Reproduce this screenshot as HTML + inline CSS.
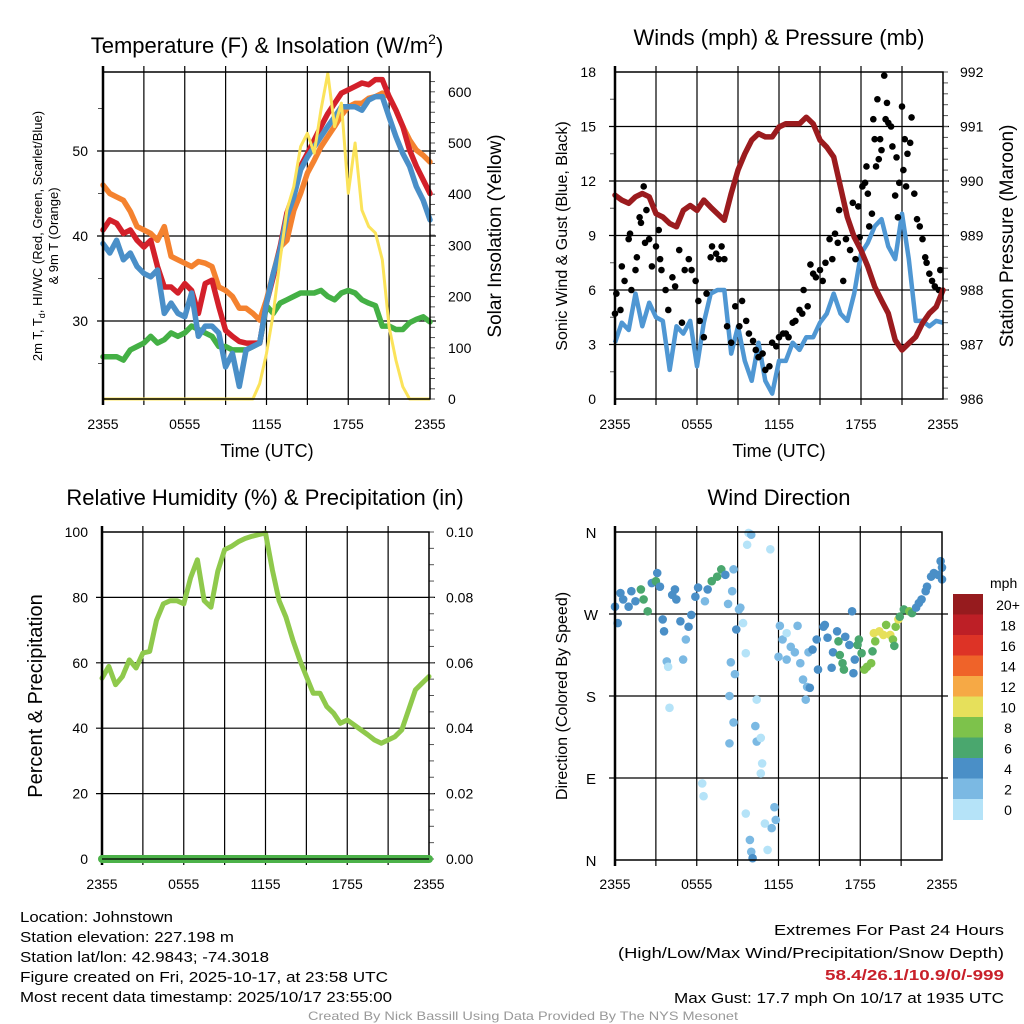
<!DOCTYPE html>
<html><head><meta charset="utf-8">
<style>
html,body{margin:0;padding:0;background:#fff;}
svg{display:block;font-family:"Liberation Sans",Arial,sans-serif;}
</style></head>
<body>
<svg id="fig" width="1024" height="1024" viewBox="0 0 1024 1024" xmlns="http://www.w3.org/2000/svg">
<rect x="0" y="0" width="1024" height="1024" fill="#fff"/>
<g id="titles" font-size="22" text-anchor="middle" fill="#000">
  <text x="267" y="53">Temperature (F) &amp; Insolation (W/m<tspan dy="-9" font-size="14">2</tspan><tspan dy="9">)</tspan></text>
  <text x="779" y="45">Winds (mph) &amp; Pressure (mb)</text>
  <text x="265" y="505">Relative Humidity (%) &amp; Precipitation (in)</text>
  <text x="779" y="505">Wind Direction</text>
</g>
<g id="p1"></g><g id="p2"></g><g id="p3"></g><g id="p4"></g>
<g id="info" font-size="15" fill="#000">
  <text x="20" y="922" textLength="153" lengthAdjust="spacingAndGlyphs">Location: Johnstown</text>
  <text x="20" y="942" textLength="214" lengthAdjust="spacingAndGlyphs">Station elevation: 227.198 m</text>
  <text x="20" y="962" textLength="249" lengthAdjust="spacingAndGlyphs">Station lat/lon: 42.9843; -74.3018</text>
  <text x="20" y="982" textLength="368" lengthAdjust="spacingAndGlyphs">Figure created on Fri, 2025-10-17, at 23:58 UTC</text>
  <text x="20" y="1002" textLength="372" lengthAdjust="spacingAndGlyphs">Most recent data timestamp: 2025/10/17 23:55:00</text>
  <text x="1004" y="935" text-anchor="end" textLength="230" lengthAdjust="spacingAndGlyphs">Extremes For Past 24 Hours</text>
  <text x="1004" y="958" text-anchor="end" textLength="386" lengthAdjust="spacingAndGlyphs">(High/Low/Max Wind/Precipitation/Snow Depth)</text>
  <text x="1004" y="980" text-anchor="end" fill="#c8202a" font-weight="bold" textLength="179" lengthAdjust="spacingAndGlyphs">58.4/26.1/10.9/0/-999</text>
  <text x="1004" y="1003" text-anchor="end" textLength="330" lengthAdjust="spacingAndGlyphs">Max Gust: 17.7 mph On 10/17 at 1935 UTC</text>
  <text x="523" y="1020" text-anchor="middle" font-size="12" fill="#999" textLength="430" lengthAdjust="spacingAndGlyphs">Created By Nick Bassill Using Data Provided By The NYS Mesonet</text>
</g>
</svg>
<script>
// ---------- data ----------
const timeLabels = ["2355","0555","1155","1755","2355"];
const hours = [0,0.5,1,1.5,2,2.5,3,3.5,4,4.5,5,5.5,6,6.5,7,7.5,8,8.5,9,9.5,10,10.5,11,11.5,12,12.5,13,13.5,14,14.5,15,15.5,16,16.5,17,17.5,18,18.5,19,19.5,20,20.5,21,21.5,22,22.5,23,23.5,24];
const temp9m = [46,45,44.6,44.2,42.9,41.1,40.7,40.3,39.5,41.1,37.6,37.2,36.8,36.4,37,36.8,36.4,34,33.6,32.9,31.5,31.5,30.9,30.1,32.5,35.6,38.7,39.5,43,45,47.4,48.9,50.5,51.7,52.9,54.2,55.2,55.6,55.6,56.2,56.4,56.8,56.4,54.8,52.9,51.3,50.1,49.5,48.7];
const temp2m = [40.7,41.9,41.5,40.3,40.7,39.5,38.7,39.5,36.4,34,34,33.3,34.4,33.6,30.9,34.4,34.8,31.7,28.9,28.2,27.6,27.4,27.4,27.4,32.1,35.2,38.7,42.7,45,48.2,49.7,51.3,52.9,54.4,55.6,56.8,57.2,57.6,58,57.8,58.4,58.4,56.4,54.8,52.9,50.1,48.2,46.6,45];
const heatWc = [39.1,38,39.5,37.2,38,36.4,35.6,35.2,36,30.9,32.1,30.9,30.5,33.3,28.2,29.4,29.4,28.6,24.6,26.2,22.3,26.6,27,27.4,32.1,35.6,38.4,42.3,44.6,47.8,49.3,50.5,51.7,52.9,54,55.2,55.2,55.2,54.8,56,56.4,56.4,54,51.7,49.7,48.2,45.8,44.2,41.9];
const dewpt = [25.8,25.8,25.8,25.4,26.6,27,27.4,28.2,27.4,27.8,28.6,28.2,28.6,29.4,29,28.6,28.2,27,27,26.6,26.6,26.6,27,27.4,31.8,30.9,32.1,32.5,32.9,33.3,33.3,33.3,33.6,32.9,32.5,33.3,33.6,33.3,32.5,32.1,31.8,29.4,29.4,29,29,29.8,30.2,30.5,29.9];
const solar = [0,0,0,0,0,0,0,0,0,0,0,0,0,0,0,0,0,0,0,0,0,0,0,30,89,167,272,369,415,493,519,480,565,636,532,578,402,500,369,337,324,272,141,76,24,0,0,0,0];
const windSpd = [3.1,4.2,3.8,5.8,4,5.3,4.5,4.3,1.6,4,3.6,4.3,1.8,4.2,5.8,6,6,2.5,4,2.1,1,3.1,1,0.3,2.1,2.1,3.1,2.7,3.4,3.4,4.2,4.7,5.8,4.7,4.3,5.8,8,8.6,9.5,9.9,8.4,7.7,10.2,7.7,4.3,4.3,4,4.3,4.2];
const pressure = [989.74,989.65,989.59,989.71,989.77,989.71,989.4,989.34,989.22,989.16,989.46,989.55,989.46,989.65,989.52,989.4,989.28,989.77,990.2,990.5,990.75,990.87,990.81,990.81,990.99,991.05,991.05,991.05,991.17,991.05,990.75,990.62,990.44,989.89,989.34,988.97,988.73,988.43,988.06,987.81,987.57,987.08,986.9,987.02,987.14,987.39,987.57,987.69,988];
const gustHours = [0,0.1,0.4,0.5,0.7,1,1.1,1.2,1.5,1.6,1.8,1.9,2.1,2.2,2.3,2.5,2.7,3,3.2,3.3,3.4,3.7,3.9,4.2,4.4,4.7,4.9,5.1,5.4,5.6,5.9,6.1,6.2,6.5,6.7,7,7.1,7.4,7.6,7.8,8,8.2,8.5,8.8,9.1,9.3,9.6,9.8,10.1,10.3,10.5,10.8,11,11.3,11.5,11.8,12,12.3,12.5,12.7,13,13.2,13.5,13.7,13.8,14.1,14.3,14.5,14.7,15,15.2,15.4,15.7,15.9,16.1,16.3,16.4,16.7,16.9,17.2,17.4,17.6,17.8,17.9,18.1,18.3,18.4,18.5,18.6,18.8,18.9,19,19.1,19.2,19.3,19.4,19.5,19.7,19.8,19.9,20,20.2,20.3,20.5,20.6,20.7,20.8,21,21.1,21.2,21.3,21.4,21.6,21.7,21.9,22.1,22.3,22.5,22.7,22.8,23,23.2,23.4,23.7,23.8];
const gustVals = [4.7,5.8,4.9,7.3,6.5,8.8,9.1,6,7.1,7.8,10,9.7,11.7,8.6,10.4,8.8,7.3,8.4,9.3,7.7,7.1,6,4.9,6.7,6.2,8.2,4.2,7.1,7.7,7.1,6.5,5.4,4.3,3.4,5.8,7.8,8.4,8,7.7,8.4,7.7,4,3.1,5.1,4,5.4,4.3,3.6,3.2,2.7,2.3,2.5,1.6,1.8,3.1,2.9,3.4,3.6,3.6,3.4,4.2,4.3,4.9,4.7,6,5.1,7.4,6.9,6.7,7.1,6.5,7.5,8.8,7.7,9.1,8.6,10.4,6.5,8.8,8.2,10.8,7.7,10.6,8.9,11.7,11.9,12.8,11.3,9.5,10.2,15.4,14.3,12.8,16.5,13.2,14.3,13.7,17.8,15.4,16.3,15.2,15,13.9,11.2,13.3,10,11.9,16.1,12.6,14.3,11.7,13.5,14.1,15.5,11.3,9.9,9.5,8.8,7.8,7.5,6.9,6.5,6.2,6,7.1];
const rh = [55.3,58.9,53.3,55.8,60.9,58.4,63,63.5,73,78,79,79,78,86,91.5,79,77,88,94.6,95.6,97,98,98.7,99.2,99.7,88.5,79,74,67,61,55.8,50.7,50.7,46.6,44.6,41.5,42.5,41,39.5,38,36.4,35.4,36.4,37.4,39.5,45.6,51.7,53.8,55.8];
const precip = [0,0,0,0,0,0,0,0,0,0,0,0,0,0,0,0,0,0,0,0,0,0,0,0,0,0,0,0,0,0,0,0,0,0,0,0,0,0,0,0,0,0,0,0,0,0,0,0,0];
const dirHours = [0,0.2,0.4,0.6,1,1.2,1.5,1.9,2.1,2.4,2.7,3.1,3,3.3,3.5,3.6,3.8,3.9,4,4.2,4.4,4.5,4.8,5,5.2,5.4,5.6,5.9,6.1,6.4,6.5,6.6,6.8,7.1,7.5,7.8,8.1,8.3,8.6,8.7,8.5,8.4,8.4,8.7,8.8,8.9,9.1,9.2,9.4,9.6,9.6,9.7,9.8,10,9.9,10,10.1,10.3,10.4,10.4,10.7,10.8,10.7,11,11.2,11.4,11.5,11.7,11.8,12.1,12.3,12.6,12.6,12,12.9,13.2,13.4,13.6,13.8,14,14.1,14.3,14.2,14.5,14.8,14.9,15.3,15.4,15.6,15.9,16,16.3,16.4,16.7,16.5,16.8,16.9,17.2,17.4,17.5,17.6,17.8,17.9,18.1,18.3,18.5,18.8,18.9,19,19.1,19.4,19.7,19.9,20.2,20.4,20.5,20.6,20.8,20.9,21.2,21.6,21.8,22.1,22.3,22.5,22.8,22.9,23.2,23.4,23.7,23.9,24,24];
const dirVals = [278,260,293,286,278,295,284,297,286,273,304,315,306,300,264,251,218,212,167,291,297,286,262,220,242,256,269,289,299,84,70,284,297,306,311,319,313,281,295,319,217,180,128,151,204,253,275,277,260,227,51,346,359,357,22,9,2,147,130,176,134,106,95,40,11,341,35,58,44,257,242,249,220,223,234,228,257,216,198,176,190,189,228,231,242,209,256,258,244,211,228,251,240,216,225,209,245,236,273,205,220,236,242,227,209,212,216,229,249,240,251,247,258,247,242,235,256,264,267,275,273,271,277,282,286,295,300,311,315,313,328,321,308];
const dirSpeeds = [5,5,5,5,5,5,5,7,7,7,5,5,7,5,5,5,3,1,1,5,5,5,5,3,3,5,5,5,5,1,1,3,5,7,7,7,5,3,3,3,3,3,3,3,3,5,3,3,1,1,1,1,1,3,3,3,5,3,3,1,1,1,1,1,1,1,3,3,3,3,3,1,3,3,3,3,3,3,3,3,3,5,3,5,5,5,5,5,5,5,5,5,7,7,7,7,5,5,5,5,5,7,7,7,9,9,9,7,11,9,11,11,9,11,9,7,9,11,7,7,9,7,5,5,5,5,5,5,5,5,5,5,5];
const cbLabels = ["20+","18","16","14","12","10","8","6","4","2","0"];
const cbColors = ["#961b1e","#bd1f26","#dd3326","#ef6329","#f6a945","#e6e05b","#7dc24b","#4aa76e","#4a8fc7","#7bb9e3","#b5e3f8"];

// ---------- helpers ----------
const NS = "http://www.w3.org/2000/svg";
function mk(parent, tag, attrs, text) {
  const e = document.createElementNS(NS, tag);
  for (const k in attrs) e.setAttribute(k, attrs[k]);
  if (text !== undefined) e.textContent = text;
  parent.appendChild(e);
  return e;
}
function linPath(xs, ys, fx, fy) {
  return xs.map((h, i) => (i ? "L" : "M") + fx(h).toFixed(1) + "," + fy(ys[i]).toFixed(1)).join("");
}
function frame(g, X0, X1, Y0, Y1, hLines, fy) {
  for (let k = 1; k < 8; k++) {
    const x = X0 + (X1 - X0) * k / 8;
    const l = mk(g, "line", {x1: x, x2: x, y1: Y0 - 6, y2: Y1 + 6, stroke: "#000", "stroke-width": 1.2});
    
    
  }
  hLines.forEach(v => {
    const y = fy(v);
    const l = mk(g, "line", {x1: X0 - 6, x2: X1 + 6, y1: y, y2: y, stroke: "#000", "stroke-width": 1.2});
    
    
  });
}
function box(g, X0, X1, Y0, Y1) {
  const r = mk(g, "rect", {x: X0, y: Y0, width: X1 - X0, height: Y1 - Y0, fill: "none", stroke: "#000", "stroke-width": 1.5});
  
  
  const l = mk(g, "line", {x1: X0, x2: X0, y1: Y0 - 6, y2: Y1 + 6, stroke: "#000", "stroke-width": 2.5});
  
  
}
function xAxisLabels(g, X0, X1, y) {
  timeLabels.forEach((t, i) => {
    const x = X0 + (X1 - X0) * i / 4;
    const e = mk(g, "text", {x: x, y: y, "font-size": 14, "text-anchor": "middle"}, t);
    
    
  });
}
function yTicks(g, vals, fy, x, side, fmt) {
  vals.forEach(v => {
    const y = fy(v);
    const t = mk(g, "text", {x: x, y: y + 5, "font-size": 14, "text-anchor": side === "l" ? "end" : "start"}, fmt(v));
    
    
  });
}
function minorTicks(g, xAxis, dir, lo, hi, step, fy) {
  for (let v = lo; v <= hi + 1e-9; v += step) {
    const y = fy(v);
    const l = mk(g, "line", {x1: xAxis, x2: xAxis + dir * 5, y1: y, y2: y, stroke: "#555", "stroke-width": 1});
    
    
  }
}
function rotLabel(g, x, y, size, text, name) {
  const t = mk(g, "text", {x: 0, y: 0, "font-size": size, "text-anchor": "middle", transform: `translate(${x},${y}) rotate(-90)`}, text);
  
  
  return t;
}

// ---------- Panel 1: temperature ----------
(function () {
  const g = document.getElementById("p1");
  const X0 = 103, X1 = 430, Y0 = 72, Y1 = 399;
  const fx = h => X0 + (X1 - X0) * h / 24;
  const fy = t => 321 - (t - 30) * 8.5;
  const fs = w => 399 - w * 0.512;
  frame(g, X0, X1, Y0, Y1, [30, 40, 50], fy);
  minorTicks(g, X0, -1, 25, 55, 10, fy);
  minorTicks(g, X1, 1, 0, 620, 20, fs);
  const series = [[dewpt, "#44b045", 'dewpoint-line'], [temp9m, "#f4822f", 'temp-9m-line'], [temp2m, "#d3202a", 'temp-2m-line'], [heatWc, "#4a8fc8", 'heat-index-windchill-line']];
  series.forEach(s => {
    const p = mk(g, "path", {d: linPath(hours, s[0], fx, fy), fill: "none", stroke: s[1], "stroke-width": 5.5, "stroke-linejoin": "round", "stroke-linecap": "round"});
    
    
  });
  const sp = mk(g, "path", {d: linPath(hours, solar, fx, fs), fill: "none", stroke: "#fbe35a", "stroke-width": 3, "stroke-linejoin": "round"});
  
  
  box(g, X0, X1, Y0, Y1);
  yTicks(g, [30, 40, 50], fy, 88, "l", v => v);
  yTicks(g, [0, 100, 200, 300, 400, 500, 600], fs, 448, "r", v => v);
  xAxisLabels(g, X0, X1, 429);
  const xl = mk(g, "text", {x: 267, y: 457, "font-size": 18, "text-anchor": "middle"}, "Time (UTC)");
  
  
  const t1 = mk(g, "text", {x: 0, y: 0, "font-size": 13, "text-anchor": "middle", transform: "translate(42,236) rotate(-90)"});
  
  
  t1.innerHTML = '2m T, T<tspan dy="3" font-size="9">d</tspan><tspan dy="-3">, HI/WC (Red, Green, Scarlet/Blue)</tspan>';
  rotLabel(g, 58, 236, 13, "& 9m T (Orange)", 'temp-y-axis-title-line2');
  rotLabel(g, 501, 236, 19, "Solar Insolation (Yellow)", 'solar-y-axis-title');
})();

// ---------- Panel 2: winds ----------
(function () {
  const g = document.getElementById("p2");
  const X0 = 615, X1 = 943, Y0 = 72, Y1 = 399;
  const fx = h => X0 + (X1 - X0) * h / 24;
  const fy = v => Y1 - v * (Y1 - Y0) / 18;
  const fp = p => Y1 - (p - 986) * (Y1 - Y0) / 6;
  frame(g, X0, X1, Y0, Y1, [3, 6, 9, 12, 15], fy);
  minorTicks(g, X0, -1, 1.5, 16.5, 3, fy);
  minorTicks(g, X1, 1, 986, 992, 0.2, fp);
  const wp = mk(g, "path", {d: linPath(hours, windSpd, fx, fy), fill: "none", stroke: "#4f97d3", "stroke-width": 4.5, "stroke-linejoin": "round"});
  
  
  gustHours.forEach((h, i) => {
    const c = mk(g, "circle", {cx: fx(h), cy: fy(gustVals[i]), r: 3.3, fill: "#000"});
    
    
  });
  const pp = mk(g, "path", {d: linPath(hours, pressure, fx, fp), fill: "none", stroke: "#9b1b1e", "stroke-width": 5.5, "stroke-linejoin": "round", "stroke-linecap": "round"});
  
  
  box(g, X0, X1, Y0, Y1);
  yTicks(g, [0, 3, 6, 9, 12, 15, 18], fy, 596, "l", v => v);
  yTicks(g, [986, 987, 988, 989, 990, 991, 992], fp, 960, "r", v => v);
  xAxisLabels(g, X0, X1, 429);
  const xl = mk(g, "text", {x: 779, y: 457, "font-size": 18, "text-anchor": "middle"}, "Time (UTC)");
  
  
  rotLabel(g, 567, 236, 16, "Sonic Wind & Gust (Blue, Black)", 'wind-y-axis-title');
  rotLabel(g, 1013, 236, 19, "Station Pressure (Maroon)", 'pressure-y-axis-title');
})();

// ---------- Panel 3: RH ----------
(function () {
  const g = document.getElementById("p3");
  const X0 = 102, X1 = 429, Y0 = 532, Y1 = 859;
  const fx = h => X0 + (X1 - X0) * h / 24;
  const fy = v => Y1 - v * (Y1 - Y0) / 100;
  const fpr = v => Y1 - v * (Y1 - Y0) / 0.1;
  frame(g, X0, X1, Y0, Y1, [20, 40, 60, 80], fy);
  minorTicks(g, X1, 1, 0, 0.1, 0.005, fpr);
  const rp = mk(g, "path", {d: linPath(hours, rh, fx, fy), fill: "none", stroke: "#8fc94c", "stroke-width": 5, "stroke-linejoin": "round", "stroke-linecap": "round"});
  
  
  box(g, X0, X1, Y0, Y1);
  const pr = mk(g, "path", {d: linPath(hours, precip, fx, fpr), fill: "none", stroke: "#4cb249", "stroke-width": 8, "stroke-linecap": "round"});
  
  
  const bl = mk(g, "line", {x1: X0, x2: X1, y1: Y1, y2: Y1, stroke: "#000", "stroke-width": 1.2});
  
  
  yTicks(g, [0, 20, 40, 60, 80, 100], fy, 88, "l", v => v);
  yTicks(g, [0, 0.02, 0.04, 0.06, 0.08, 0.1], fpr, 446, "r", v => v.toFixed(2));
  xAxisLabels(g, X0, X1, 889);
  rotLabel(g, 42, 696, 20, "Percent & Precipitation", 'rh-y-axis-title');
})();

// ---------- Panel 4: wind direction ----------
(function () {
  const g = document.getElementById("p4");
  const X0 = 615, X1 = 942, Y0 = 532, Y1 = 860;
  const fx = h => X0 + (X1 - X0) * h / 24;
  const fy = d => Y1 - d * (Y1 - Y0) / 360;
  frame(g, X0, X1, Y0, Y1, [90, 180, 270], fy);
  function col(s) {
    const bin = Math.min(10, Math.floor(s / 2));
    return cbColors[10 - bin];
  }
  dirHours.forEach((h, i) => {
    const c = mk(g, "circle", {cx: fx(h), cy: fy(dirVals[i]), r: 4.3, fill: col(dirSpeeds[i])});
    
    
  });
  box(g, X0, X1, Y0, Y1);
  const dl = ["N", "E", "S", "W", "N"];
  dl.forEach((t, i) => {
    const e = mk(g, "text", {x: 591, y: fy(i * 90) + 6, "font-size": 15, "text-anchor": "middle"}, t);
    
    
  });
  xAxisLabels(g, X0, X1, 889);
  rotLabel(g, 567, 696, 16, "Direction (Colored By Speed)", 'direction-y-axis-title');
  const cbTop = 594, segH = 20.5;
  cbColors.forEach((c, i) => {
    const r = mk(g, "rect", {x: 953, y: cbTop + i * segH, width: 30, height: segH + 0.5, fill: c});
    
    
    const t = mk(g, "text", {x: 1008, y: cbTop + i * segH + 16, "font-size": 14, "text-anchor": "middle"}, cbLabels[i]);
    
    
  });
  const u = mk(g, "text", {x: 990, y: 588, "font-size": 14}, "mph");
  
  
})();
</script>
</body></html>
